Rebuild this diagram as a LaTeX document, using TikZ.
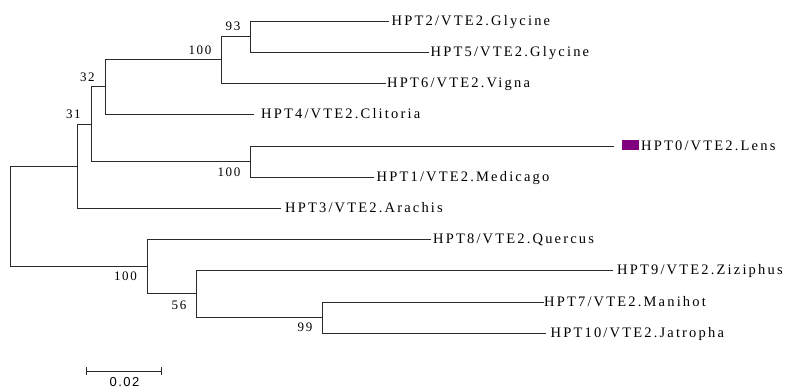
\documentclass[tikz,border=0pt]{standalone}
\usepackage{fontspec}
\setmainfont{Liberation Serif}
\newfontfamily\lblfont[LetterSpace=15]{Liberation Serif}
\newfontfamily\bootfont[LetterSpace=12]{Liberation Serif}
\newfontfamily\barfont[LetterSpace=12]{Liberation Sans}
\definecolor{branchcol}{HTML}{2A2A2A}
\definecolor{lensmark}{HTML}{800080}
\begin{document}
\begin{tikzpicture}[x=1pt,y=-1pt,
  branch/.style={draw=branchcol, line width=1pt, line cap=rect},
  taxon/.style={anchor=base west, inner sep=0pt, text=black, font=\lblfont\fontsize{14.5}{14.5}\selectfont},
  boot/.style={anchor=base, inner sep=0pt, text=black, font=\bootfont\fontsize{13}{13}\selectfont},
  barlabel/.style={anchor=base, inner sep=0pt, text=black, font=\barfont\fontsize{13}{13}\selectfont}]
\fill[white] (0,0) rectangle (791,388);
\useasboundingbox (0,0) rectangle (791,388);
% internal nodes
\coordinate (root) at (10,216);
\coordinate (nA) at (77,166.1);
\coordinate (n31) at (91.3,124.2);
\coordinate (n32) at (105.3,86.9);
\coordinate (n100a) at (221,59.75);
\coordinate (n93) at (250,36.5);
\coordinate (nLM) at (250,161.5);
\coordinate (nB) at (147,266.25);
\coordinate (n56) at (196,293.75);
\coordinate (n99) at (322,317.5);
% leaf tips
\coordinate (t2) at (388,21);
\coordinate (t5) at (428,52);
\coordinate (t6) at (385,83);
\coordinate (t4) at (253,114);
\coordinate (t0) at (613,146);
\coordinate (t1) at (373,177);
\coordinate (t3) at (280,208);
\coordinate (t8) at (430,239);
\coordinate (t9) at (612,270);
\coordinate (t7) at (543,302);
\coordinate (t10) at (545,333);
% branches
\draw[branch] (root) |- (nA);
\draw[branch] (root) |- (nB);
\draw[branch] (nA) |- (n31);
\draw[branch] (nA) |- (t3);
\draw[branch] (n31) |- (n32);
\draw[branch] (n31) |- (nLM);
\draw[branch] (n32) |- (n100a);
\draw[branch] (n32) |- (t4);
\draw[branch] (n100a) |- (n93);
\draw[branch] (n100a) |- (t6);
\draw[branch] (n93) |- (t2);
\draw[branch] (n93) |- (t5);
\draw[branch] (nLM) |- (t0);
\draw[branch] (nLM) |- (t1);
\draw[branch] (nB) |- (t8);
\draw[branch] (nB) |- (n56);
\draw[branch] (n56) |- (t9);
\draw[branch] (n56) |- (n99);
\draw[branch] (n99) |- (t7);
\draw[branch] (n99) |- (t10);
% taxon labels
\node[taxon] (l2) at (391.5,25.8) {HPT2/VTE2.Glycine};
\node[taxon] (l5) at (430.5,56.8) {HPT5/VTE2.Glycine};
\node[taxon] (l6) at (387,87.8) {HPT6/VTE2.Vigna};
\node[taxon] (l4) at (261,118.8) {HPT4/VTE2.Clitoria};
\node[fill=lensmark, minimum width=17pt, minimum height=10pt, inner sep=0pt, anchor=west] (m0) at (621.5,145) {};
\node[taxon] (l0) at (641,150.8) {HPT0/VTE2.Lens};
\node[taxon] (l1) at (376.5,181.8) {HPT1/VTE2.Medicago};
\node[taxon] (l3) at (285,212.8) {HPT3/VTE2.Arachis};
\node[taxon] (l8) at (433,243.8) {HPT8/VTE2.Quercus};
\node[taxon] (l9) at (617,274.8) {HPT9/VTE2.Ziziphus};
\node[taxon] (l7) at (544,306.8) {HPT7/VTE2.Manihot};
\node[taxon] (l10) at (550.5,337.8) {HPT10/VTE2.Jatropha};
% bootstrap values
\node[boot] (b93) at (233,30.8) {93};
\node[boot] (b100a) at (200,54.2) {100};
\node[boot] (b32) at (87.3,81.7) {32};
\node[boot] (b31) at (73.3,118.2) {31};
\node[boot] (b100lm) at (229,176.2) {100};
\node[boot] (b100b) at (125.5,280.9) {100};
\node[boot] (b56) at (179,309.2) {56};
\node[boot] (b99) at (305,331.9) {99};
% scale bar
\coordinate (sb1) at (86,371);
\coordinate (sb2) at (161,371);
\draw[branch, line cap=butt] (sb1) -- (sb2);
\draw[branch, line cap=butt] (sb1) ++(0,-4) -- ++(0,8);
\draw[branch, line cap=butt] (sb2) ++(0,-4) -- ++(0,8);
\node[barlabel] (sbl) at (124.5,386.3) {0.02};
\end{tikzpicture}
\end{document}
